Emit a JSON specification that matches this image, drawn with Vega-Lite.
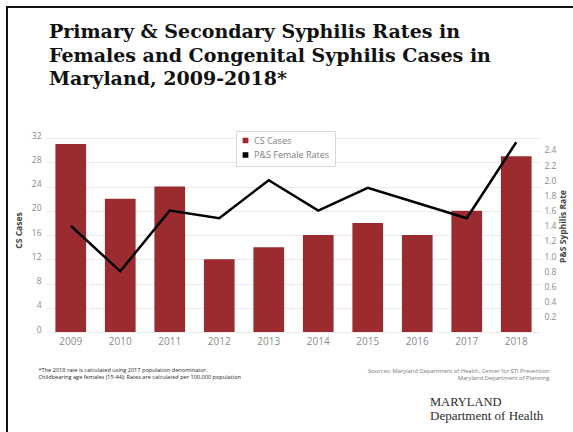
{
  "$schema": "https://vega.github.io/schema/vega-lite/v6.json",
  "autosize": {"type": "pad"},
  "padding": {"left": 6, "top": 6, "right": 0, "bottom": 0},
  "background": "white",
  "bounds": "flush",
  "title": {
    "text": ["Primary & Secondary Syphilis Rates in", "Females and Congenital Syphilis Cases in", "Maryland, 2009-2018*"],
    "orient": "top",
    "anchor": "start",
    "frame": "group",
    "font": "DejaVu Serif",
    "fontSize": 19,
    "fontWeight": "bold",
    "color": "#111111",
    "lineHeight": 23.5,
    "dx": 42,
    "dy": 87
  },
  "vconcat": [
    {
      "width": 573,
      "height": 430,
      "data": {
        "values": [
          {"year": "2009", "cases": 31, "rate": 1.4},
          {"year": "2010", "cases": 22, "rate": 0.8},
          {"year": "2011", "cases": 24, "rate": 1.6},
          {"year": "2012", "cases": 12, "rate": 1.5},
          {"year": "2013", "cases": 14, "rate": 2.0},
          {"year": "2014", "cases": 16, "rate": 1.6},
          {"year": "2015", "cases": 18, "rate": 1.9},
          {"year": "2016", "cases": 16, "rate": 1.7},
          {"year": "2017", "cases": 20, "rate": 1.5},
          {"year": "2018", "cases": 29, "rate": 2.5}
        ]
      },
      "title": {
        "text": "MARYLAND",
        "subtitle": "Department of Health",
        "orient": "bottom",
        "anchor": "start",
        "frame": "group",
        "font": "Liberation Serif",
        "fontSize": 12.5,
        "fontWeight": "normal",
        "color": "#2b2b2b",
        "subtitleFont": "Liberation Serif",
        "subtitleFontSize": 13,
        "subtitleColor": "#2b2b2b",
        "subtitlePadding": 1.5,
        "dx": 423,
        "dy": -45
      },
      "view": {"stroke": "#111111", "strokeWidth": 2, "fill": "white"},
      "resolve": {
        "scale": {"y": "independent"},
        "axis": {"x": "independent", "y": "independent"}
      },
      "layer": [
        {
          "mark": {"type": "bar", "color": "#9b2b2f"},
          "encoding": {
            "x": {
              "field": "year",
              "type": "ordinal",
              "scale": {"paddingInner": 0.38, "paddingOuter": 0.978},
              "axis": {
                "orient": "bottom",
                "offset": -105,
                "labelAngle": 0,
                "labelPadding": 4,
                "labelFontSize": 10,
                "labelColor": "#8a8a8a",
                "ticks": false,
                "domain": false,
                "grid": false,
                "title": ["*The 2018 rate is calculated using 2017 population denominator.", "Childbearing age females (15-44); Rates are calculated per 100,000 population"],
                "titleX": 31,
                "titleY": 35,
                "titleAlign": "left",
                "titleBaseline": "top",
                "titleFontSize": 5.6,
                "titleLineHeight": 7,
                "titleFontWeight": "normal",
                "titleColor": "#262626"
              }
            },
            "y": {
              "field": "cases",
              "type": "quantitative",
              "scale": {"domain": [-17.3, 53.6], "nice": false},
              "axis": {
                "orient": "left",
                "offset": -39,
                "values": [0, 4, 8, 12, 16, 20, 24, 28, 32],
                "domain": false,
                "grid": false,
                "ticks": true,
                "tickSize": -495,
                "tickColor": "#ececec",
                "tickWidth": 1,
                "labelPadding": 500,
                "labelOffset": -3,
                "labelColor": "#8a8a8a",
                "labelFontSize": 8.5,
                "title": "CS Cases",
                "titleX": -23,
                "titleY": 223,
                "titleAngle": 270,
                "titleFontSize": 8.5,
                "titleFontWeight": "bold",
                "titleColor": "#444444"
              }
            },
            "color": {
              "datum": "CS Cases",
              "scale": {"domain": ["CS Cases", "P&S Female Rates"], "range": ["#9b2b2f", "#000000"]},
              "legend": {
                "orient": "none",
                "legendX": 229,
                "legendY": 124,
                "direction": "vertical",
                "title": null,
                "padding": 5,
                "strokeColor": "#d9d9d9",
                "fillColor": "white",
                "symbolType": "square",
                "symbolSize": 18,
                "labelFontSize": 9,
                "labelColor": "#7f7f7f",
                "rowPadding": 3.5
              }
            }
          }
        },
        {
          "mark": {"type": "line", "strokeWidth": 2.5},
          "encoding": {
            "x": {
              "field": "year",
              "type": "ordinal",
              "axis": {
                "orient": "bottom",
                "offset": -105,
                "labels": false,
                "ticks": false,
                "domain": false,
                "grid": false,
                "title": ["Sources: Maryland Department of Health, Center for STI Prevention", "Maryland Department of Planning"],
                "titleX": 542,
                "titleY": 35,
                "titleAlign": "right",
                "titleBaseline": "top",
                "titleFontSize": 5.8,
                "titleLineHeight": 7,
                "titleFontWeight": "normal",
                "titleColor": "#777777"
              }
            },
            "y": {
              "field": "rate",
              "type": "quantitative",
              "scale": {"domain": [-1.383, 4.282], "nice": false},
              "axis": {
                "orient": "right",
                "offset": -39,
                "values": [0.2, 0.4, 0.6, 0.8, 1.0, 1.2, 1.4, 1.6, 1.8, 2.0, 2.2, 2.4],
                "format": ".1f",
                "domain": false,
                "grid": false,
                "ticks": false,
                "labelPadding": 3,
                "labelColor": "#8a8a8a",
                "labelFontSize": 8.5,
                "title": "P&S Syphilis Rate",
                "titleX": 26,
                "titleY": 219,
                "titleAngle": 270,
                "titleFontSize": 8.5,
                "titleFontWeight": "bold",
                "titleColor": "#444444"
              }
            },
            "color": {"datum": "P&S Female Rates"}
          }
        }
      ]
    }
  ],
  "config": {
    "font": "Open Sans"
  }
}
